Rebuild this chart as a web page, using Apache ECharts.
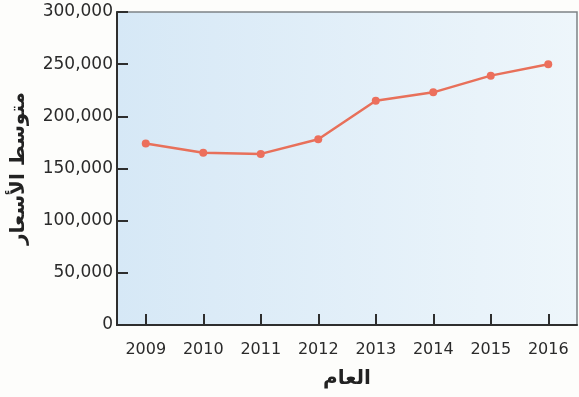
<!DOCTYPE html>
<html>
<head>
<meta charset="utf-8">
<script src="https://cdn.jsdelivr.net/npm/echarts@6/dist/echarts.min.js"></script>
<style>
  html, body { margin: 0; padding: 0; background: #fdfdfb; }
  #chart { width: 579px; height: 397px; }
</style>
</head>
<body>
<div id="chart"></div>
<script>
// average price per year
const years = ['2009', '2010', '2011', '2012', '2013', '2014', '2015', '2016'];
const avgPrice = [174000, 165000, 164000, 178000, 215000, 223000, 239000, 250000];

const xTitle = 'العام';
const yTitle = 'متوسط الأسعار';

const chart = echarts.init(document.getElementById('chart'));

chart.setOption({
  backgroundColor: '#fdfdfb',
  animation: false,
  grid: {
    left: 117,
    top: 12,
    right: 2,
    bottom: 72,
    show: true,
    borderColor: '#7d8287',
    borderWidth: 1.5,
    backgroundColor: new echarts.graphic.LinearGradient(0, 0, 1, 0, [
      { offset: 0, color: '#d6e8f6' },
      { offset: 1, color: '#eef6fb' }
    ])
  },
  xAxis: {
    type: 'category',
    data: years,
    boundaryGap: true,
    name: xTitle,
    nameLocation: 'middle',
    nameGap: 44,
    nameTextStyle: { fontFamily: 'DejaVu Sans', fontWeight: 'bold', fontSize: 20, color: '#222' },
    axisLine: { lineStyle: { color: '#2e2e2e', width: 2 } },
    axisTick: { show: true, inside: true, length: 11, alignWithLabel: true, lineStyle: { color: '#2e2e2e', width: 2 } },
    axisLabel: { fontFamily: 'DejaVu Sans', fontSize: 16, color: '#2a2a2a', margin: 17 },
    splitLine: { show: false }
  },
  yAxis: {
    type: 'value',
    min: 0,
    max: 300000,
    interval: 50000,
    name: yTitle,
    nameLocation: 'middle',
    nameRotate: 90,
    nameGap: 88,
    nameTextStyle: { fontFamily: 'DejaVu Sans', fontWeight: 'bold', fontSize: 20, color: '#222' },
    axisLine: { show: true, lineStyle: { color: '#2e2e2e', width: 2 } },
    axisTick: { show: true, inside: true, length: 11, lineStyle: { color: '#2e2e2e', width: 2 } },
    axisLabel: {
      fontFamily: 'DejaVu Sans',
      fontSize: 17,
      color: '#2a2a2a',
      margin: 4,
      formatter: v => v.toLocaleString('en-US')
    },
    splitLine: { show: false }
  },
  series: [{
    type: 'line',
    data: avgPrice,
    symbol: 'circle',
    symbolSize: 8,
    lineStyle: { color: '#e8705a', width: 2.5 },
    itemStyle: { color: '#ec6f5c' }
  }]
});
</script>
</body>
</html>
